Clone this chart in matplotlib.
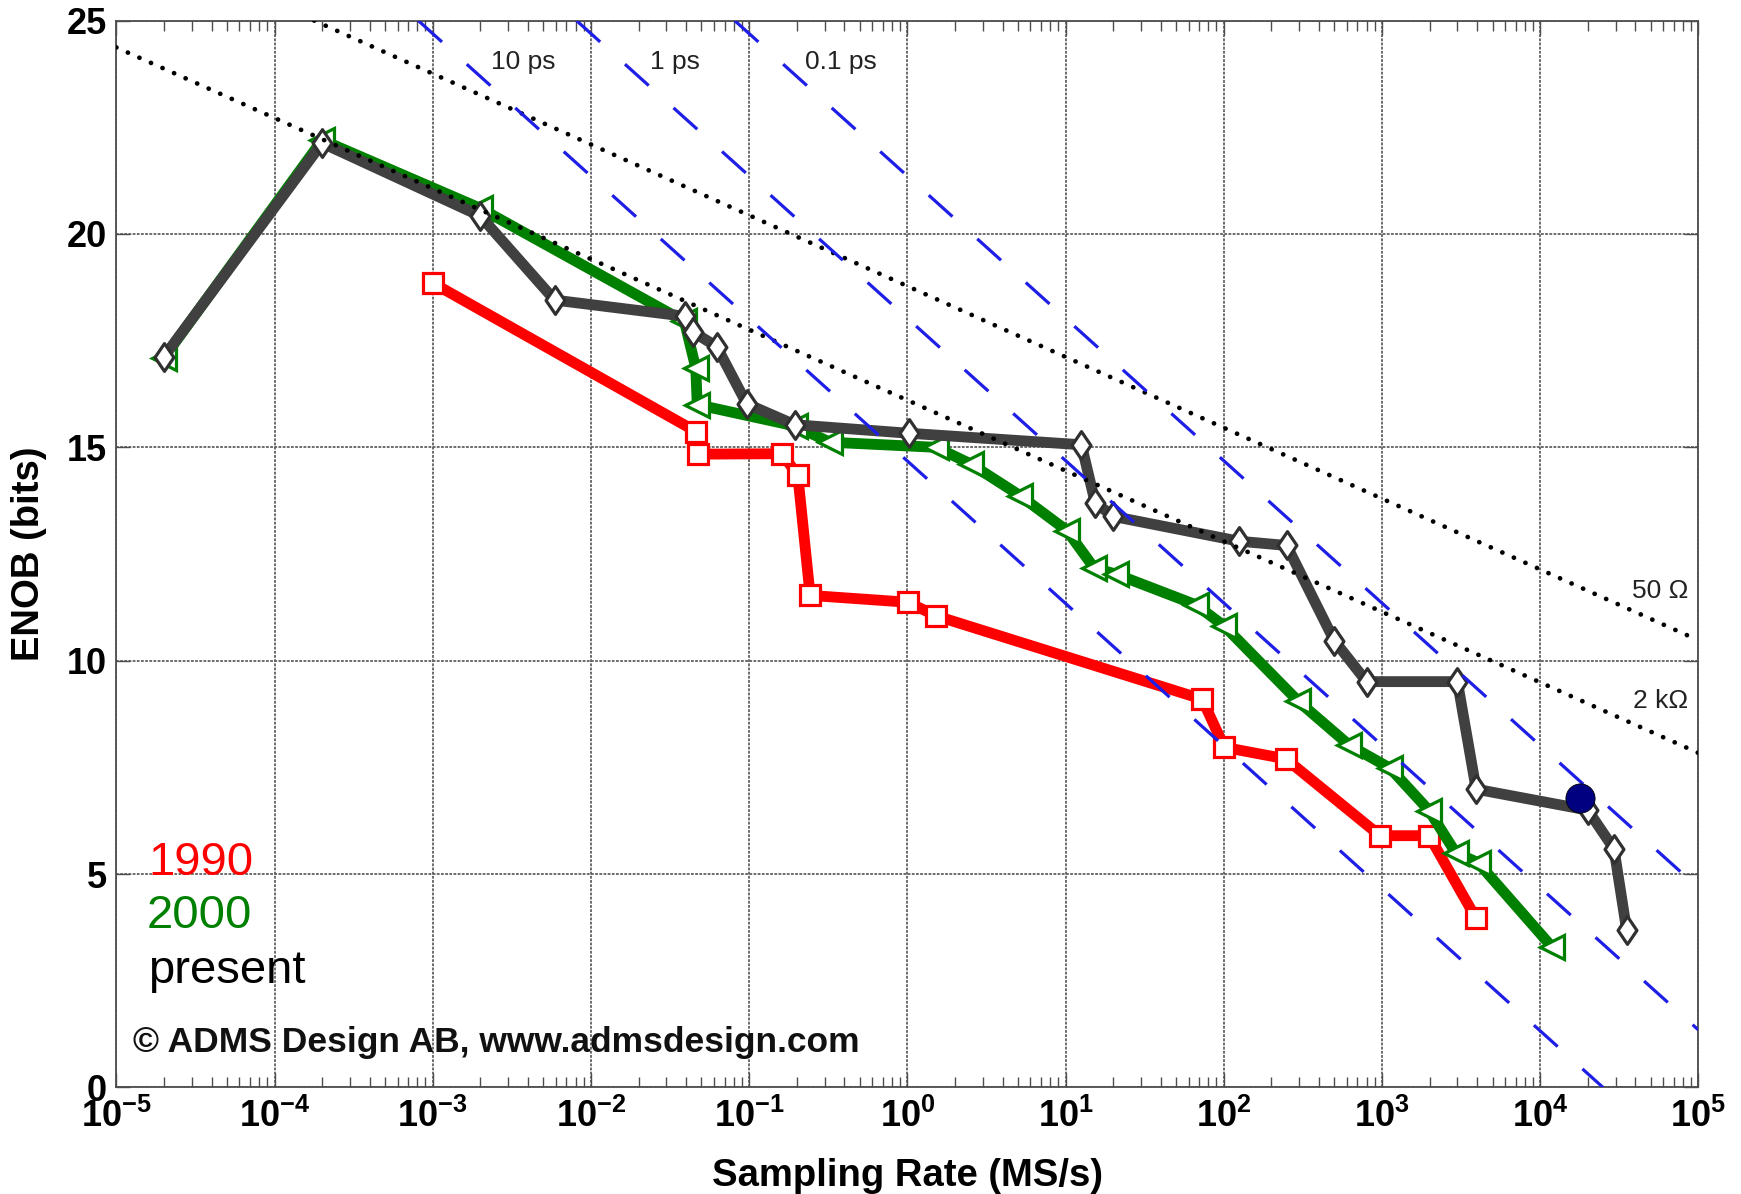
import numpy as np
import matplotlib
matplotlib.use('Agg')
import matplotlib.pyplot as plt
from matplotlib.path import Path
from matplotlib.ticker import FixedLocator, LogLocator, NullFormatter

plt.rcParams['font.family'] = ['Liberation Sans', 'DejaVu Sans']
plt.rcParams['mathtext.fontset'] = 'custom'
plt.rcParams['mathtext.rm'] = 'Liberation Sans'
plt.rcParams['mathtext.bf'] = 'Liberation Sans:bold'
plt.rcParams['lines.scale_dashes'] = False

# ---------------- data (sampling rate in MS/s, ENOB in bits) ----------------
rate_1990 = [1e-3, 0.0462, 0.0476, 0.161, 0.203, 0.243, 1.01, 1.52, 73, 101, 247, 973, 1985, 3940]
enob_1990 = [18.85, 15.37, 14.84, 14.85, 14.35, 11.53, 11.37, 11.05, 9.10, 7.97, 7.70, 5.90, 5.90, 3.96]

rate_2000 = [2e-5, 2e-4, 2e-3, 0.039, 0.046, 0.047, 0.195, 0.324, 1.52, 2.52, 5.15, 10.2,
             15.2, 20.8, 66.7, 101, 296, 622, 1128, 1985, 2925, 4050, 11900]
enob_2000 = [17.1, 22.2, 20.6, 17.95, 16.86, 16.0, 15.5, 15.12, 15.0, 14.61, 13.87, 13.05,
             12.17, 12.03, 11.31, 10.81, 9.05, 8.02, 7.48, 6.49, 5.50, 5.27, 3.29]

rate_present = [2e-5, 2e-4, 2e-3, 5.9e-3, 0.0394, 0.0444, 0.0624, 0.0966, 0.194, 1.02, 12.6, 15.4,
                20.1, 125, 250, 500, 800, 3000, 3940, 20000, 29300, 35200]
enob_present = [17.12, 22.13, 20.42, 18.45, 18.07, 17.70, 17.36, 16.02, 15.53, 15.33, 15.06, 13.70,
                13.38, 12.80, 12.70, 10.47, 9.51, 9.51, 6.99, 6.50, 5.59, 3.69]

highlight_rate = [17800]
highlight_enob = [6.78]

# thermal-noise limits (dotted), endpoints
thermal_labels = ['50 \u03a9', '2 k\u03a9']
thermal_rate = [[1.78e-4, 1e5], [1e-5, 1e5]]
thermal_enob = [[25.0, 10.48], [24.37, 7.84]]

# aperture-jitter limits (dashed), endpoints
jitter_labels = ['10 ps', '1 ps', '0.1 ps']
jitter_rate = [[8.1e-4, 2.5e4], [8.1e-3, 1e5], [8.1e-2, 1e5]]
jitter_enob = [[25.0, 0.0], [25.0, 1.35], [25.0, 4.68]]

x_decades = [1e-5, 1e-4, 1e-3, 1e-2, 1e-1, 1e0, 1e1, 1e2, 1e3, 1e4, 1e5]
x_ticklabels = [r'$\mathbf{10^{-5}}$', r'$\mathbf{10^{-4}}$', r'$\mathbf{10^{-3}}$', r'$\mathbf{10^{-2}}$',
                r'$\mathbf{10^{-1}}$', r'$\mathbf{10^{0}}$', r'$\mathbf{10^{1}}$', r'$\mathbf{10^{2}}$',
                r'$\mathbf{10^{3}}$', r'$\mathbf{10^{4}}$', r'$\mathbf{10^{5}}$']
y_ticks = [0, 5, 10, 15, 20, 25]

# ---------------- figure ----------------
fig = plt.figure(figsize=(17.41, 11.94), dpi=100)
ax = fig.add_axes([0.0668, 0.0892, 0.9087, 0.8936])
ax.set_xscale('log')
ax.set_xlim(1e-5, 1e5)
ax.set_ylim(0, 25)

grid_col = '0.38'
ax.grid(True, which='major', color=grid_col, lw=1.3, ls=(0, (2, 1)))
ax.set_axisbelow(True)
for s in ax.spines.values():
    s.set_color('0.3')
    s.set_linewidth(1.3)

diamond = Path([(0, 1), (0.68, 0), (0, -1), (-0.68, 0), (0, 1)],
               [Path.MOVETO, Path.LINETO, Path.LINETO, Path.LINETO, Path.CLOSEPOLY])

lw = 7.8
ax.plot(rate_1990, enob_1990, color='#ff0000', lw=lw, marker='s', ms=14, mew=2.3,
        mfc='white', mec='#ff0000', zorder=3, solid_joinstyle='round')
ax.plot(rate_2000, enob_2000, color='#008000', lw=lw, marker='<', ms=17.5, mew=2.3,
        mfc='white', mec='#008000', zorder=4, solid_joinstyle='round')
ax.plot(rate_present, enob_present, color='#404040', lw=lw, marker=diamond, ms=20, mew=2.3,
        mfc='white', mec='#303030', zorder=5, solid_joinstyle='round')

for xs, ys in zip(thermal_rate, thermal_enob):
    ax.plot(xs, ys, color='black', lw=3.4, ls=(0, (0.1, 9.0)), dash_capstyle='round', zorder=6)
for xs, ys in zip(jitter_rate, jitter_enob):
    ax.plot(xs, ys, color='#1e1ee6', lw=2.3, dashes=(23, 24), dash_capstyle='butt', zorder=6)

ax.plot(highlight_rate, highlight_enob, 'o', ms=21, color='#000080', mec='black', mew=0.6, zorder=8)

# ---------------- ticks ----------------
ax.xaxis.set_major_locator(FixedLocator(x_decades))
ax.set_xticklabels(x_ticklabels)
ax.xaxis.set_minor_locator(LogLocator(base=10, subs=np.arange(2, 10), numticks=100))
ax.xaxis.set_minor_formatter(NullFormatter())
ax.set_yticks(y_ticks)
ax.set_yticklabels([str(v) for v in y_ticks], fontweight='bold')
ax.tick_params(which='both', direction='in', top=True, right=True, color='0.3')
ax.tick_params(which='major', length=10, width=1, labelsize=26)
ax.tick_params(which='minor', length=7, width=1)
ax.tick_params(axis='x', which='major', pad=8)
ax.tick_params(axis='y', which='major', pad=7)

ax.set_xlabel('Sampling Rate (MS/s)', fontsize=27.5, fontweight='bold')
ax.set_ylabel('ENOB (bits)', fontsize=27.5, fontweight='bold')
ax.xaxis.set_label_coords(0.5, -0.066)
ax.yaxis.set_label_coords(-0.044, 0.5)

# ---------------- annotations ----------------
small = dict(fontsize=19, color='#222222', va='baseline', zorder=7)
jit_x = [10**-2.63, 10**-1.627, 10**-0.647]
for lab, xx in zip(jitter_labels, jit_x):
    ax.text(xx, 23.87, lab, ha='left', **small)
ax.text(10**4.935, 11.46, thermal_labels[0], ha='right', **small)
ax.text(10**4.935, 8.89, thermal_labels[1], ha='right', **small)

ax.text(10**-4.80, 4.99, '1990', color='#ff0000', fontsize=34, va='baseline')
ax.text(10**-4.81, 3.73, '2000', color='#008000', fontsize=34, va='baseline')
ax.text(10**-4.80, 2.44, 'present', color='black', fontsize=34, va='baseline')
ax.text(10**-4.894, 0.84, '\u00a9 ADMS Design AB, www.admsdesign.com', fontsize=25.5,
        fontweight='bold', color='#111111', va='baseline')

fig.savefig('out.png', dpi=100, facecolor='white')
